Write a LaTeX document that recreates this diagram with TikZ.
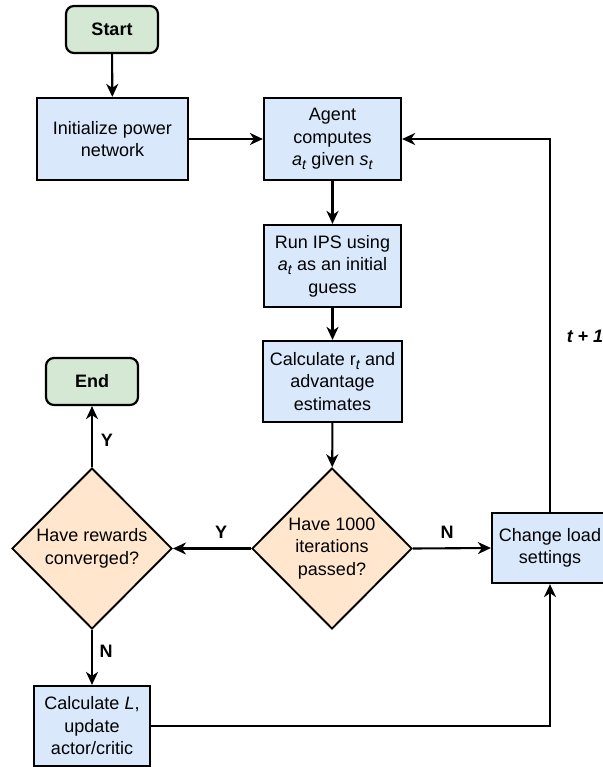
\documentclass[tikz,border=0pt]{standalone}
\usepackage{fontspec}
\setmainfont{Liberation Sans}
\usetikzlibrary{arrows.meta,shapes.geometric}
\definecolor{termfill}{HTML}{D5E8D4}
\definecolor{procfill}{HTML}{DAE8FC}
\definecolor{decfill}{HTML}{FFE6CC}
% italic subscript set the way an HTML <sub> is
\newcommand{\sub}[1]{\raisebox{-4pt}{\fontsize{14}{14}\selectfont\textit{#1}}}
\tikzset{
  base/.style={draw=black, line width=2.2pt, align=center, inner sep=0pt,
    font=\fontsize{18}{22.5}\selectfont},
  termbox/.style={base, fill=termfill, rounded corners=8pt, font=\fontsize{18}{22.5}\selectfont\bfseries},
  procbox/.style={base, fill=procfill},
  decbox/.style={base, fill=decfill, shape=diamond, line width=1.9pt,
    minimum width=160pt, minimum height=161pt},
  flow/.style={line width=2.1pt, -{Stealth[length=13pt,width=12pt,inset=4pt]}},
  lbl/.style={font=\fontsize{18}{22.5}\selectfont\bfseries, inner sep=0pt}
}
\begin{document}
\begin{tikzpicture}[x=1pt,y=-1pt]
  \useasboundingbox (0,0) rectangle (602,767);

  % terminals
  \node[termbox, minimum width=92pt, minimum height=47pt] (start) at (112,29.5) {Start};
  \node[termbox, minimum width=92pt, minimum height=47pt] (end) at (92,381.5) {End};

  % process steps
  \node[procbox, minimum width=151pt, minimum height=82pt] (init) at (112.5,139)
    {Initialize power\\network};
  \node[procbox, minimum width=137pt, minimum height=82pt] (agent) at (332.5,139)
    {Agent\\computes\\\textit{a}\sub{t} given \textit{s}\sub{t}};
  \node[procbox, minimum width=137pt, minimum height=82pt] (ips) at (332.5,266)
    {Run IPS using\\\textit{a}\sub{t} as an initial\\guess};
  \node[procbox, minimum width=139pt, minimum height=81pt] (calc) at (332.5,381.5)
    {Calculate r\sub{t} and\\advantage\\estimates};
  \node[procbox, minimum width=116pt, minimum height=80pt] (loss) at (92,726)
    {Calculate \textit{L},\\update\\actor/critic};
  \node[procbox, minimum width=116pt, minimum height=70pt] (load) at (550,548)
    {Change load\\settings};

  % decisions
  \node[decbox] (iter) at (332,548.5) {Have 1000\\iterations\\passed?};
  \node[decbox] (conv) at (92,548.5) {Have rewards\\converged?};

  % connectors
  \draw[flow] (start) -- (init);
  \draw[flow] (init) -- (agent);
  \draw[flow] (agent) -- (ips);
  \draw[flow] (ips) -- (calc);
  \draw[flow] (calc) -- (iter);
  \draw[flow] (iter.west) -- (conv.east);
  \draw[flow] (iter.east) -- (load.west);
  \draw[flow] (conv.north) -- (end.south);
  \draw[flow] (conv.south) -- (loss.north);
  \draw[flow] (loss.east) -| (load.south);
  \draw[flow] (load.north) |- (agent.east);

  % branch labels
  \node[lbl] (ylbl1) at (221,532) {Y};
  \node[lbl] (nlbl1) at (447,532) {N};
  \node[lbl] (ylbl2) at (107,440) {Y};
  \node[lbl] (nlbl2) at (106,651) {N};
  \node[lbl, font=\fontsize{18}{22.5}\selectfont\bfseries\itshape] (tlbl) at (585,336) {t + 1};
\end{tikzpicture}
\end{document}
